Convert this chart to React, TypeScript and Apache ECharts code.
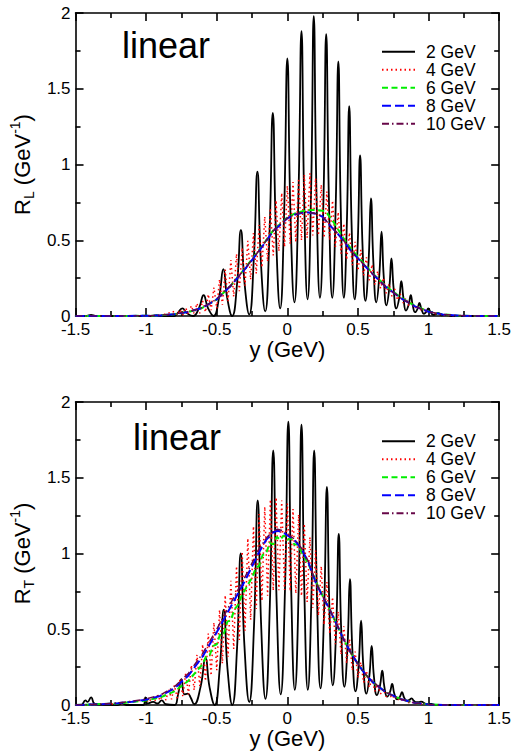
import React, { useEffect, useRef } from 'react';
import * as echarts from 'echarts';

const FONT = '"Liberation Sans", Arial, Helvetica, sans-serif';

const seriesNames = ['2 GeV', '4 GeV', '6 GeV', '8 GeV', '10 GeV'];
const seriesColors = ['#000000', '#ff0000', '#00ee00', '#0000ff', '#670748'];
const panelTags = ['linear', 'linear'];
const panelYNames = ['L', 'T'];

// ---------- top panel (R_L) ----------
const rL2: number[][] = [
  [-1.5, 0], [-1.42, 0], [-1.39, 0.008], [-1.36, 0], [-0.95, 0], [-0.925, 0.006], [-0.9, 0], [-0.8, 0],
  [-0.777, 0.019], [-0.744, 0.05], [-0.711, 0.019], [-0.668, 0], [-0.626, 0.052], [-0.593, 0.137],
  [-0.562, 0.052], [-0.523, 0], [-0.484, 0.12], [-0.453, 0.31], [-0.426, 0.12], [-0.391, 0],
  [-0.356, 0.215], [-0.329, 0.567], [-0.303, 0.215], [-0.27, 0.01], [-0.238, 0.368], [-0.212, 0.953],
  [-0.188, 0.368], [-0.157, 0.03], [-0.127, 0.528], [-0.103, 1.34], [-0.08, 0.528], [-0.051, 0.05],
  [-0.023, 0.677], [0, 1.7], [0.022, 0.677], [0.05, 0.09], [0.078, 0.77], [0.1, 1.88], [0.119, 0.77],
  [0.143, 0.11], [0.168, 0.82], [0.187, 1.98], [0.206, 0.82], [0.231, 0.12], [0.256, 0.78], [0.275, 1.86],
  [0.294, 0.78], [0.318, 0.12], [0.342, 0.713], [0.361, 1.68], [0.378, 0.713], [0.4, 0.12], [0.421, 0.6],
  [0.438, 1.385], [0.455, 0.6], [0.477, 0.11], [0.498, 0.471], [0.515, 1.06], [0.532, 0.471], [0.553, 0.1],
  [0.575, 0.357], [0.592, 0.776], [0.609, 0.357], [0.63, 0.09], [0.651, 0.267], [0.667, 0.556],
  [0.682, 0.267], [0.702, 0.07], [0.722, 0.188], [0.737, 0.38], [0.752, 0.188], [0.772, 0.05],
  [0.792, 0.118], [0.807, 0.23], [0.822, 0.118], [0.84, 0.035], [0.859, 0.074], [0.874, 0.137],
  [0.887, 0.074], [0.905, 0.025], [0.922, 0.048], [0.935, 0.086], [0.949, 0.048], [0.967, 0.015],
  [0.984, 0.028], [0.998, 0.05], [1.013, 0.028], [1.033, 0.008], [1.053, 0.013], [1.068, 0.02],
  [1.09, 0.005], [1.13, 0.006], [1.16, 0], [1.5, 0],
];

const rL4: number[][] = [
  [-1.0, 0.001], [-0.9, 0.004], [-0.8, 0.03], [-0.78, 0.006], [-0.76, 0.042], [-0.74, 0.007], [-0.72, 0.054],
  [-0.7, 0.01], [-0.68, 0.068], [-0.66, 0.014], [-0.64, 0.084], [-0.62, 0.018], [-0.6, 0.1], [-0.58, 0.026],
  [-0.56, 0.144], [-0.54, 0.038], [-0.52, 0.188], [-0.5, 0.05], [-0.48, 0.242], [-0.46, 0.074],
  [-0.44, 0.306], [-0.42, 0.098], [-0.4, 0.37], [-0.38, 0.128], [-0.36, 0.41], [-0.34, 0.164],
  [-0.32, 0.45], [-0.3, 0.2], [-0.28, 0.496], [-0.26, 0.24], [-0.24, 0.548], [-0.22, 0.28], [-0.2, 0.6],
  [-0.18, 0.32], [-0.16, 0.656], [-0.14, 0.36], [-0.12, 0.712], [-0.1, 0.4], [-0.08, 0.764],
  [-0.06, 0.428], [-0.04, 0.812], [-0.02, 0.456], [0, 0.86], [0.02, 0.476], [0.04, 0.884], [0.06, 0.488],
  [0.08, 0.908], [0.1, 0.5], [0.12, 0.932], [0.14, 0.516], [0.16, 0.942], [0.18, 0.532], [0.2, 0.91],
  [0.22, 0.532], [0.24, 0.866], [0.26, 0.516], [0.28, 0.822], [0.3, 0.5], [0.32, 0.762], [0.34, 0.456],
  [0.36, 0.686], [0.38, 0.412], [0.4, 0.61], [0.42, 0.372], [0.44, 0.55], [0.46, 0.336], [0.48, 0.49],
  [0.5, 0.3], [0.52, 0.436], [0.54, 0.268], [0.56, 0.388], [0.58, 0.236], [0.6, 0.34], [0.62, 0.206],
  [0.64, 0.296], [0.66, 0.182], [0.68, 0.252], [0.7, 0.15], [0.72, 0.212], [0.74, 0.13], [0.76, 0.179],
  [0.78, 0.105], [0.8, 0.145], [0.82, 0.086], [0.84, 0.12], [0.86, 0.068], [0.88, 0.091], [0.9, 0.05],
  [0.92, 0.069], [0.94, 0.038], [0.96, 0.052], [0.98, 0.026], [1.0, 0.035], [1.05, 0.015], [1.1, 0.006],
  [1.2, 0],
];

const rL6: number[][] = [
  [-1.5, 0], [-1.0, 0.001], [-0.9, 0.004], [-0.8, 0.012], [-0.7, 0.027], [-0.6, 0.055], [-0.5, 0.11],
  [-0.4, 0.2], [-0.3, 0.315], [-0.2, 0.435], [-0.1, 0.565], [0, 0.65], [0.05, 0.675], [0.1, 0.69],
  [0.15, 0.7], [0.2, 0.7], [0.25, 0.695], [0.28, 0.68], [0.32, 0.63], [0.4, 0.51], [0.45, 0.445],
  [0.5, 0.39], [0.55, 0.338], [0.6, 0.285], [0.65, 0.24], [0.7, 0.195], [0.8, 0.125], [0.9, 0.068],
  [1.0, 0.03], [1.1, 0.011], [1.2, 0.003], [1.3, 0], [1.5, 0],
];

const rL8: number[][] = [
  [-1.5, 0], [-1.0, 0.001], [-0.9, 0.004], [-0.8, 0.012], [-0.7, 0.027], [-0.6, 0.055], [-0.5, 0.11],
  [-0.4, 0.2], [-0.3, 0.31], [-0.2, 0.43], [-0.1, 0.56], [0, 0.645], [0.05, 0.668], [0.1, 0.68],
  [0.13, 0.686], [0.2, 0.675], [0.25, 0.655], [0.3, 0.6], [0.35, 0.55], [0.4, 0.495], [0.45, 0.43],
  [0.5, 0.38], [0.55, 0.33], [0.6, 0.28], [0.65, 0.235], [0.7, 0.19], [0.8, 0.12], [0.9, 0.065],
  [1.0, 0.028], [1.1, 0.01], [1.2, 0.003], [1.3, 0], [1.5, 0],
];

const rL10: number[][] = [
  [-1.5, 0], [-1.0, 0.001], [-0.9, 0.005], [-0.8, 0.013], [-0.7, 0.028], [-0.6, 0.056], [-0.5, 0.112],
  [-0.4, 0.202], [-0.3, 0.312], [-0.2, 0.432], [-0.1, 0.562], [0, 0.646], [0.05, 0.669], [0.1, 0.681],
  [0.13, 0.686], [0.2, 0.676], [0.25, 0.656], [0.3, 0.602], [0.35, 0.552], [0.4, 0.497], [0.45, 0.432],
  [0.5, 0.382], [0.55, 0.332], [0.6, 0.282], [0.65, 0.236], [0.7, 0.19], [0.8, 0.12], [0.9, 0.065],
  [1.0, 0.028], [1.1, 0.01], [1.2, 0.003], [1.3, 0], [1.5, 0],
];

// ---------- bottom panel (R_T) ----------
const rT2: number[][] = [
  [-1.5, 0], [-1.46, 0], [-1.43, 0.03], [-1.415, 0.02], [-1.39, 0.05], [-1.36, 0.005], [-1.2, 0],
  [-1.17, 0.012], [-1.14, 0], [-1.02, 0], [-1.005, 0.05], [-0.99, 0.01], [-0.95, 0.02], [-0.92, 0.01],
  [-0.89, 0.03], [-0.86, 0.005], [-0.8, 0], [-0.775, 0.065], [-0.75, 0.17], [-0.728, 0.07],
  [-0.705, 0.075], [-0.685, 0.05], [-0.66, 0.005], [-0.615, 0.118], [-0.58, 0.31], [-0.551, 0.118],
  [-0.515, 0], [-0.479, 0.24], [-0.45, 0.63], [-0.424, 0.24], [-0.39, 0], [-0.356, 0.38], [-0.33, 1.0],
  [-0.304, 0.392], [-0.27, 0.02], [-0.236, 0.525], [-0.21, 1.35], [-0.186, 0.538], [-0.155, 0.04],
  [-0.124, 0.663], [-0.1, 1.68], [-0.076, 0.682], [-0.047, 0.07], [-0.017, 0.754], [0.007, 1.87],
  [0.027, 0.773], [0.053, 0.1], [0.08, 0.765], [0.1, 1.85], [0.12, 0.765], [0.145, 0.1], [0.17, 0.7],
  [0.19, 1.68], [0.21, 0.707], [0.235, 0.11], [0.26, 0.615], [0.28, 1.44], [0.298, 0.628], [0.322, 0.13],
  [0.346, 0.51], [0.364, 1.13], [0.381, 0.504], [0.404, 0.12], [0.426, 0.39], [0.443, 0.83], [0.46, 0.371],
  [0.483, 0.09], [0.505, 0.267], [0.522, 0.557], [0.538, 0.258], [0.56, 0.075], [0.581, 0.195],
  [0.597, 0.39], [0.613, 0.188], [0.634, 0.065], [0.656, 0.127], [0.672, 0.227], [0.687, 0.12],
  [0.707, 0.055], [0.727, 0.087], [0.742, 0.139], [0.757, 0.076], [0.777, 0.037], [0.797, 0.055],
  [0.812, 0.084], [0.827, 0.049], [0.846, 0.028], [0.865, 0.034], [0.88, 0.044], [0.895, 0.028],
  [0.913, 0.018], [0.932, 0.019], [0.947, 0.022], [0.983, 0.008], [1.02, 0.007], [1.05, 0], [1.5, 0],
];

const rT4: number[][] = [
  [-1.5, 0], [-1.2, 0.008], [-1.0, 0.035], [-0.98, 0.018], [-0.96, 0.049], [-0.94, 0.024], [-0.92, 0.063],
  [-0.9, 0.03], [-0.88, 0.082], [-0.86, 0.032], [-0.84, 0.106], [-0.82, 0.038], [-0.8, 0.13],
  [-0.78, 0.046], [-0.76, 0.17], [-0.74, 0.058], [-0.72, 0.21], [-0.7, 0.07], [-0.68, 0.264],
  [-0.66, 0.098], [-0.64, 0.332], [-0.62, 0.126], [-0.6, 0.4], [-0.58, 0.158], [-0.56, 0.472],
  [-0.54, 0.194], [-0.52, 0.544], [-0.5, 0.23], [-0.48, 0.628], [-0.46, 0.274], [-0.44, 0.724],
  [-0.42, 0.318], [-0.4, 0.82], [-0.38, 0.37], [-0.36, 0.916], [-0.34, 0.43], [-0.32, 1.012], [-0.3, 0.49],
  [-0.28, 1.1], [-0.26, 0.562], [-0.24, 1.18], [-0.22, 0.634], [-0.2, 1.26], [-0.18, 0.687], [-0.16, 1.308],
  [-0.14, 0.721], [-0.12, 1.356], [-0.1, 0.755], [-0.08, 1.37], [-0.06, 0.757], [-0.04, 1.35],
  [-0.02, 0.759], [0, 1.33], [0.02, 0.752], [0.04, 1.294], [0.06, 0.736], [0.08, 1.258], [0.1, 0.72],
  [0.12, 1.196], [0.14, 0.68], [0.16, 1.108], [0.18, 0.64], [0.2, 1.02], [0.22, 0.59], [0.24, 0.916],
  [0.26, 0.53], [0.28, 0.812], [0.3, 0.47], [0.32, 0.712], [0.34, 0.402], [0.36, 0.616], [0.38, 0.334],
  [0.4, 0.52], [0.42, 0.276], [0.44, 0.436], [0.46, 0.228], [0.48, 0.352], [0.5, 0.18], [0.52, 0.282],
  [0.54, 0.148], [0.56, 0.226], [0.58, 0.116], [0.6, 0.17], [0.62, 0.091], [0.64, 0.138], [0.66, 0.073],
  [0.68, 0.106], [0.7, 0.055], [0.72, 0.081], [0.74, 0.043], [0.76, 0.063], [0.78, 0.031], [0.8, 0.045],
  [0.82, 0.022], [0.84, 0.033], [0.86, 0.015], [0.88, 0.021], [0.9, 0.008], [0.92, 0.01], [1.0, 0.002],
  [1.1, 0],
];

const rT6: number[][] = [
  [-1.5, 0], [-1.2, 0.01], [-1.0, 0.03], [-0.9, 0.05], [-0.8, 0.09], [-0.7, 0.16], [-0.6, 0.27],
  [-0.575, 0.32], [-0.55, 0.33], [-0.525, 0.39], [-0.5, 0.4], [-0.475, 0.47], [-0.45, 0.47],
  [-0.425, 0.55], [-0.4, 0.56], [-0.375, 0.63], [-0.35, 0.66], [-0.325, 0.72], [-0.3, 0.76],
  [-0.275, 0.8], [-0.25, 0.84], [-0.225, 0.9], [-0.2, 0.92], [-0.175, 0.99], [-0.15, 1.0], [-0.125, 1.07],
  [-0.1, 1.06], [-0.075, 1.11], [-0.05, 1.09], [-0.025, 1.12], [0, 1.09], [0.025, 1.1], [0.05, 1.06],
  [0.075, 1.06], [0.1, 1.01], [0.15, 0.93], [0.2, 0.82], [0.25, 0.72], [0.3, 0.63], [0.35, 0.53],
  [0.4, 0.43], [0.45, 0.345], [0.5, 0.27], [0.55, 0.205], [0.6, 0.155], [0.7, 0.082], [0.8, 0.04],
  [0.9, 0.014], [1.0, 0.004], [1.1, 0], [1.5, 0],
];

const rT8: number[][] = [
  [-1.5, 0], [-1.4, 0.003], [-1.3, 0.006], [-1.2, 0.012], [-1.1, 0.022], [-1.0, 0.035], [-0.9, 0.06],
  [-0.8, 0.11], [-0.7, 0.195], [-0.6, 0.32], [-0.5, 0.48], [-0.4, 0.65], [-0.3, 0.82], [-0.2, 1.01],
  [-0.15, 1.09], [-0.1, 1.14], [-0.07, 1.15], [-0.03, 1.14], [0, 1.12], [0.05, 1.09], [0.1, 1.03],
  [0.15, 0.94], [0.2, 0.81], [0.25, 0.715], [0.3, 0.63], [0.35, 0.53], [0.4, 0.43], [0.45, 0.345],
  [0.5, 0.27], [0.55, 0.205], [0.6, 0.155], [0.7, 0.082], [0.8, 0.04], [0.9, 0.014], [1.0, 0.004],
  [1.1, 0], [1.5, 0],
];

const rT10: number[][] = [
  [-1.5, 0], [-1.4, 0.003], [-1.3, 0.007], [-1.2, 0.014], [-1.1, 0.025], [-1.0, 0.04], [-0.9, 0.066],
  [-0.8, 0.12], [-0.7, 0.21], [-0.6, 0.34], [-0.5, 0.5], [-0.4, 0.675], [-0.3, 0.845], [-0.2, 1.03],
  [-0.15, 1.1], [-0.1, 1.15], [-0.07, 1.16], [-0.03, 1.15], [0, 1.13], [0.05, 1.095], [0.1, 1.035],
  [0.15, 0.945], [0.2, 0.815], [0.25, 0.718], [0.3, 0.632], [0.35, 0.532], [0.4, 0.432], [0.45, 0.346],
  [0.5, 0.271], [0.55, 0.206], [0.6, 0.156], [0.7, 0.082], [0.8, 0.04], [0.9, 0.014], [1.0, 0.004],
  [1.1, 0], [1.5, 0],
];

const panelData = [
  [rL2, rL4, rL6, rL8, rL10],
  [rT2, rT4, rT6, rT8, rT10],
];

const lineStyles = [
  { width: 1.8, type: 'solid' as any },
  { width: 1.5, type: [1.5, 3] as any },
  { width: 2, type: [6, 3.5] as any },
  { width: 2, type: [9, 4] as any },
  { width: 1.5, type: [7, 3, 1.5, 3] as any },
];
const seriesSmooth = [0.5, false, false, false, false];
const seriesZ = [2, 2, 3, 3, 4];
const drawOrder = [0, 1, 2, 4, 3];

const GRID_TOPS = [13, 402];
const GRID_H = 303;
const LEGEND_TOPS = [37.7, 427.3];
const TAG_POS = [
  [122, 45],
  [133, 437],
];

export default function App() {
  const ref = useRef<HTMLDivElement>(null);

  useEffect(() => {
    if (!ref.current) return;
    const chart = echarts.init(ref.current, null, { renderer: 'svg' });

    const axisLineStyle = { color: '#000', width: 1.6 };
    const grids = GRID_TOPS.map((t) => ({ left: 73, top: t, width: 429, height: GRID_H }));

    const xAxes: any[] = [];
    const yAxes: any[] = [];
    [0, 1].forEach((g) => {
      const base = {
        type: 'value',
        gridIndex: g,
        min: -1.5,
        max: 1.5,
        interval: 0.5,
        axisLine: { show: true, onZero: false, lineStyle: axisLineStyle },
        axisTick: { show: true, inside: true, length: 8, lineStyle: axisLineStyle },
        minorTick: { show: true, splitNumber: 2, length: 5, lineStyle: axisLineStyle },
        splitLine: { show: false },
        minorSplitLine: { show: false },
      };
      xAxes.push({
        ...base,
        position: 'bottom',
        axisLabel: { show: true, margin: 5, fontSize: 17, color: '#000', fontFamily: FONT },
        name: 'y (GeV)',
        nameLocation: 'middle',
        nameGap: 21,
        nameTextStyle: { fontSize: 22, color: '#000', fontFamily: FONT },
      });
      xAxes.push({ ...base, position: 'top', axisLabel: { show: false } });
      const ybase = {
        type: 'value',
        gridIndex: g,
        min: 0,
        max: 2,
        interval: 0.5,
        axisLine: { show: true, onZero: false, lineStyle: axisLineStyle },
        axisTick: { show: true, inside: true, length: 8, lineStyle: axisLineStyle },
        minorTick: { show: true, splitNumber: 2, length: 5, lineStyle: axisLineStyle },
        splitLine: { show: false },
        minorSplitLine: { show: false },
      };
      yAxes.push({
        ...ybase,
        position: 'left',
        axisLabel: { show: true, margin: 5, fontSize: 17, color: '#000', fontFamily: FONT },
        name: `{m|R}{s|${panelYNames[g]}}{m| (GeV}{p|-1}{m|)}`,
        nameLocation: 'middle',
        nameGap: 33,
        nameTextStyle: {
          fontSize: 22,
          color: '#000',
          fontFamily: FONT,
          rich: {
            m: { fontSize: 22, lineHeight: 28, verticalAlign: 'middle', fontFamily: FONT, color: '#000' },
            s: { fontSize: 14, lineHeight: 14, verticalAlign: 'bottom', fontFamily: FONT, color: '#000' },
            p: { fontSize: 14, lineHeight: 14, verticalAlign: 'top', fontFamily: FONT, color: '#000' },
          },
        },
      });
      yAxes.push({ ...ybase, position: 'right', axisLabel: { show: false } });
    });

    const series: any[] = [];
    [0, 1].forEach((g) => {
      drawOrder.forEach((i) => {
        series.push({
          type: 'line',
          name: seriesNames[i],
          xAxisIndex: g * 2,
          yAxisIndex: g * 2,
          data: panelData[g][i],
          symbol: 'none',
          showSymbol: false,
          smooth: seriesSmooth[i],
          z: seriesZ[i],
          lineStyle: { color: seriesColors[i], ...lineStyles[i] },
          itemStyle: { color: seriesColors[i] },
          clip: true,
        });
      });
    });

    const legends = LEGEND_TOPS.map((t) => ({
      show: true,
      orient: 'vertical',
      left: 376,
      top: t,
      itemWidth: 33,
      itemHeight: 10,
      itemGap: 0,
      selectedMode: false,
      data: seriesNames,
      itemStyle: { opacity: 0 },
      textStyle: { fontSize: 17.5, lineHeight: 18, color: '#000', fontFamily: FONT, padding: [0, 0, 0, 6] },
    }));

    const graphic = TAG_POS.map((p, g) => ({
      type: 'text',
      x: p[0],
      y: p[1],
      style: {
        text: panelTags[g],
        fontSize: 36,
        fontFamily: FONT,
        fill: '#000',
        align: 'left',
        verticalAlign: 'middle',
      },
      z: 10,
    }));

    chart.setOption({
      animation: false,
      backgroundColor: '#ffffff',
      grid: grids,
      xAxis: xAxes,
      yAxis: yAxes,
      legend: legends,
      series,
      graphic,
    });

    return () => chart.dispose();
  }, []);

  return (
    <div
      ref={ref}
      style={{ position: 'absolute', left: 0, top: 0, width: 514, height: 754, background: '#fff' }}
    />
  );
}
